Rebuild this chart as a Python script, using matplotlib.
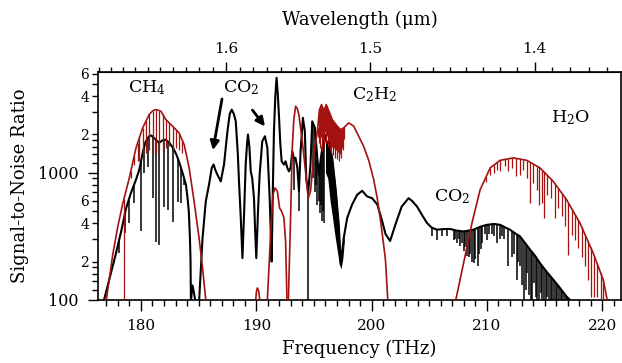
import numpy as np
import matplotlib.pyplot as plt
from matplotlib.ticker import FixedLocator, FixedFormatter, FuncFormatter

plt.rcParams['font.family'] = 'DejaVu Serif'
plt.rcParams['mathtext.fontset'] = 'dejavuserif'

RED = '#a3120f'

# --- measured spectrum (black): envelope, frequency in THz vs SNR ---
meas_f1 = [176.8, 177.3, 177.8, 178.3, 178.7, 179.1, 179.57, 179.85, 180.0, 180.2, 180.4,
           180.7, 180.9, 181.2, 181.56, 181.9, 182.16, 182.5, 182.77, 183.05, 183.3, 183.6,
           183.9, 184.05, 184.15, 184.25, 184.3, 184.33]
meas_snr1 = [100, 150, 226, 350, 520, 680, 881, 1050, 1220, 1500, 1750,
             1930, 1960, 1850, 1720, 1800, 1818, 1700, 1570, 1400, 1220, 1000,
             805, 620, 494, 300, 200, 100]

meas_f2 = [184.35, 184.45, 184.55, 184.7]
meas_snr2 = [100, 130, 120, 100]

meas_f3 = [185.05, 185.2, 185.34, 185.62, 185.9, 186.14, 186.3, 186.45, 186.63, 186.92,
           187.2, 187.5, 187.7, 187.87, 188.05, 188.22, 188.4, 188.5, 188.65, 188.8,
           188.95, 189.08, 189.2, 189.28, 189.4, 189.52, 189.65, 189.8, 189.9, 190.0,
           190.15, 190.29, 190.52, 190.75, 190.96, 191.06, 191.16, 191.25, 191.33, 191.43,
           191.53, 191.65, 191.76, 191.86, 191.96, 192.08, 192.2, 192.4, 192.54, 192.69,
           192.83, 192.98, 193.12, 193.25, 193.4, 193.56, 193.7, 193.84, 194.04, 194.21,
           194.33, 194.5, 194.7, 194.85, 195.08, 195.29, 195.42, 195.6, 195.77, 195.94,
           196.15, 196.29, 196.58, 196.87, 197.15, 197.33, 197.58, 197.88, 198.3, 198.75,
           199.18, 199.61, 200.04, 200.5, 200.9, 201.2, 201.6, 202.1, 202.6, 203.2,
           203.5, 203.93, 204.4, 204.8, 205.2, 205.66, 206.2, 206.8, 207.4, 207.97,
           208.4, 208.83, 209.4, 210.0, 210.6, 211.14, 211.6, 212.0, 212.4, 212.87,
           213.3, 213.74, 214.2, 214.6, 215.2, 215.75, 216.3, 216.9, 217.2]
meas_snr3 = [100, 180, 306, 594, 805, 1090, 1160, 1050, 964, 853,
             1156, 2115, 2900, 3130, 2900, 2535, 1400, 853, 450, 213,
             500, 1156, 1700, 1995, 1600, 1024, 900, 630, 350, 213,
             500, 964, 1766, 1933, 1564, 1000, 630, 350, 200, 700,
             2115, 4000, 5570, 4200, 2870, 1700, 1228, 1156, 1228, 1090,
             1024, 1100, 1472, 1300, 1306, 1090, 713, 1472, 2700, 2115,
             900, 700, 1156, 2535, 2250, 1306, 964, 1300, 1660, 1995,
             1660, 1766, 1306, 758, 389, 189, 306, 440, 560, 671,
             720, 650, 630, 560, 420, 330, 290, 400, 540, 630,
             600, 543, 460, 402, 370, 356, 360, 361, 350, 345,
             350, 356, 375, 389, 395, 389, 370, 356, 335, 315,
             280, 248, 220, 194, 165, 144, 125, 106, 100]

# individual absorption lines in the measured spectrum (position, bottom SNR)
meas_line_f = [177.26, 177.69, 178.12, 178.6, 178.99, 179.42, 180.0, 180.3, 180.6, 181.01,
               181.3, 181.58, 182.02, 182.31, 182.74, 183.17, 183.46, 183.75,
               193.27, 193.7, 194.52, 194.95, 195.1, 195.2, 195.3, 195.4, 195.5, 195.6,
               195.7, 195.8, 195.9,
               205.23, 205.66, 206.1, 206.53, 207.1,
               207.25, 207.4, 207.55, 207.7, 207.85, 208.0, 208.12, 208.25, 208.4, 208.55,
               208.7, 208.85, 209.0, 209.18, 209.3, 209.45, 209.6, 209.8,
               210.0, 210.2, 210.4, 210.6, 210.86, 211.1, 211.3, 211.5, 211.86, 212.15,
               212.35, 212.58, 212.7, 212.87, 213.08, 213.22, 213.36, 213.5, 213.65, 213.8,
               213.94, 214.08, 214.22, 214.37, 214.5, 214.66, 214.8, 214.95, 215.08, 215.23,
               215.37, 215.52, 215.66, 215.81, 215.95, 216.1, 216.25, 216.39, 216.53, 216.68,
               216.82, 216.95]
meas_line_snr = [135, 194, 234, 336, 400, 580, 345, 1000, 1100, 635,
                 286, 271, 540, 512, 410, 590, 580, 800,
                 735, 500, 100, 900, 700, 800, 560, 600, 480, 560,
                 420, 500, 400,
                 315, 297, 320, 315, 297,
                 300, 280, 300, 263, 280, 240, 260, 220, 219, 230,
                 200, 194, 210, 183, 230, 250, 280, 330,
                 297, 330, 330, 320, 280, 300, 320, 300, 183, 219,
                 230, 144, 200, 183, 130, 100, 120, 162, 110, 100,
                 100, 135, 105, 100, 100, 113, 100, 100, 100, 106,
                 100, 100, 100, 100, 100, 100, 100, 100, 100, 100,
                 100, 100]

# dense line region of the measured C2H2 band (upper / lower edge)
meas_band_f = [196.0, 196.2, 196.4, 196.6, 196.8, 197.0, 197.2, 197.35, 197.5, 197.65]
meas_band_hi = [1800, 1700, 1500, 1300, 900, 600, 330, 200, 260, 330]
meas_band_lo = [1000, 900, 600, 450, 330, 250, 190, 175, 210, 300]

# --- simulated spectrum (red) ---
sim_f1 = [177.0, 177.55, 178.0, 178.4, 178.99, 179.57, 180.15, 180.72, 181.0, 181.24,
          181.5, 181.73, 182.16, 182.74, 183.31, 183.75, 184.18, 184.61, 185.04, 185.34, 185.62]
sim_snr1 = [100, 226, 380, 560, 908, 1564, 2250, 2870, 3050, 3130,
            3100, 3040, 2613, 2320, 2050, 1660, 1090, 594, 306, 178, 100]
sim_f2 = [189.95, 190.02, 190.1, 190.2, 190.3]
sim_snr2 = [100, 118, 124, 118, 100]
sim_f3 = [190.96, 191.1, 191.25, 191.45, 191.62, 191.83, 192.02, 192.2, 192.4, 192.54, 192.66]
sim_snr3 = [100, 180, 345, 671, 758, 713, 527, 495, 440, 288, 100]
sim_f4 = [192.78, 192.9, 192.98, 193.12, 193.25, 193.41, 193.55, 193.69, 193.99, 194.27,
          194.5, 194.7, 194.99, 195.29, 195.48, 195.66, 195.86, 196.06, 196.29, 196.58,
          197.02, 197.3, 197.58, 198.02, 198.45, 198.88, 199.32, 199.75, 200.18, 200.5,
          200.76, 201.0, 201.2, 201.4]
sim_snr4 = [100, 250, 467, 1564, 2600, 3330, 3200, 2870, 1766, 1024,
            630, 713, 1387, 2115, 3130, 3430, 3040, 3430, 3040, 2613,
            2320, 2180, 2250, 2460, 2320, 1933, 1600, 1250, 881, 620,
            427, 290, 206, 100]
sim_f5 = [207.3, 207.97, 208.7, 209.41, 210.28, 211.14, 212.29, 213.45, 214.6, 215.75,
          216.9, 218.06, 219.21, 220.08, 220.42]
sim_snr5 = [100, 194, 402, 735, 1090, 1250, 1306, 1250, 1090, 853,
            613, 402, 233, 144, 100]

sim_line_f = [178.53, 179.13, 179.42, 179.71, 179.85, 180.15, 180.43, 180.72, 181.01, 181.3,
              181.58, 181.88, 182.16, 182.45, 182.74, 183.03, 183.31, 183.6,
              195.32, 195.40, 195.48, 195.56, 195.64, 195.72, 195.80, 195.88, 195.96, 196.04,
              196.12, 196.20, 196.28, 196.36, 196.44, 196.52, 196.60, 196.68, 196.76, 196.84,
              196.92, 197.00, 197.08, 197.16, 197.24, 197.32, 197.40, 197.48, 197.56, 197.64,
              209.9, 210.3, 210.6, 210.9, 211.14, 211.57, 211.86, 212.15, 212.53, 212.87,
              213.16, 213.5, 213.74, 214.02, 214.32, 214.54, 214.75, 214.95, 215.23, 215.52,
              215.9, 216.18, 216.48, 216.76, 217.05, 217.34, 217.63, 217.92, 218.21, 218.5,
              218.78, 218.99, 219.27, 219.56, 219.85, 220.08]
sim_line_snr = [100, 900, 1156, 1230, 1228, 1306, 1429, 1517, 1343, 1429,
                1517, 1472, 1564, 1610, 1517, 1564, 1517, 1429,
                1900, 1700, 2100, 1550, 1900, 1470, 1800, 1650, 2100, 1700,
                1950, 1600, 1800, 1520, 1700, 1420, 1600, 1370, 1550, 1310,
                1500, 1280, 1450, 1230, 1400, 1300, 1550, 1500, 1800, 1850,
                850, 950, 1000, 1050, 1024, 1122, 1024, 1090, 935, 964,
                1056, 908, 577, 830, 735, 560, 577, 440, 671, 630,
                440, 527, 453, 378, 226, 325, 297, 255, 219, 183,
                144, 106, 106, 106, 100, 100]

major_vals = [100, 1000]
major_text = ['100', '1000']
minor_vals = [120, 140, 160, 180, 200, 300, 400, 500, 600, 700, 800, 900,
              1200, 1400, 1600, 1800, 2000, 3000, 4000, 5000, 6000]
minor_labeled = [2, 4, 6]


def envelope_at(x, f, s):
    return 10 ** np.interp(x, f, np.log10(s))


def minor_label(v, pos):
    m = v / 10 ** np.floor(np.log10(v))
    lead = int(round(m))
    return str(lead) if (lead in minor_labeled and abs(m - lead) < 1e-6) else ''


fig = plt.figure(figsize=(6.22, 3.63), dpi=100)
ax = fig.add_axes([0.158, 0.174, 0.840, 0.628])

# measured (black)
meas_all_f = meas_f1 + meas_f3
meas_all_s = meas_snr1 + meas_snr3
for f, s in [(meas_f1, meas_snr1), (meas_f2, meas_snr2), (meas_f3, meas_snr3)]:
    ax.plot(f, s, color='black', lw=1.5, zorder=2)
tops = envelope_at(meas_line_f, meas_all_f, meas_all_s)
ax.vlines(meas_line_f, meas_line_snr, tops, color='black', lw=1.1, zorder=2)
ax.fill_between(meas_band_f, meas_band_lo, meas_band_hi, color='black', lw=0, zorder=2)

# simulated (red)
sim_all_f = sim_f1 + sim_f4 + sim_f5
sim_all_s = sim_snr1 + sim_snr4 + sim_snr5
for f, s in [(sim_f1, sim_snr1), (sim_f2, sim_snr2), (sim_f3, sim_snr3),
             (sim_f4, sim_snr4), (sim_f5, sim_snr5)]:
    ax.plot(f, s, color=RED, lw=1.2, zorder=3)
tops = envelope_at(sim_line_f, sim_all_f, sim_all_s)
ax.vlines(sim_line_f, sim_line_snr, tops, color=RED, lw=0.9, zorder=3)

ax.set_yscale('log')
ax.set_xlim(176.3, 221.6)
ax.set_ylim(100, 6200)
ax.yaxis.set_major_locator(FixedLocator(major_vals))
ax.yaxis.set_major_formatter(FixedFormatter(major_text))
ax.yaxis.set_minor_locator(FixedLocator(minor_vals))
ax.yaxis.set_minor_formatter(FuncFormatter(minor_label))
ax.set_xticks(np.arange(180, 221, 10))
ax.xaxis.set_minor_locator(FixedLocator(np.arange(177, 222, 1)))
ax.tick_params(axis='x', which='major', direction='out', length=8, width=1, pad=6, labelsize=11)
ax.tick_params(axis='x', which='minor', direction='out', length=4.3, width=1)
ax.tick_params(axis='y', which='major', direction='out', length=7.5, width=1, pad=7, labelsize=11.5)
ax.tick_params(axis='y', which='minor', direction='out', length=4, width=1, pad=2.5, labelsize=10)
for sp in ax.spines.values():
    sp.set_linewidth(1.2)

sec = ax.secondary_xaxis('top', functions=(lambda x: 299.792458 / x,
                                           lambda x: 299.792458 / x))
sec.set_xticks([1.4, 1.5, 1.6])
sec.xaxis.set_minor_locator(FixedLocator(np.arange(1.36, 1.705, 0.01)))
sec.tick_params(which='major', direction='out', length=7.5, width=1, pad=4, labelsize=11)
sec.tick_params(which='minor', direction='out', length=3.5, width=1)
sec.set_xlabel('Wavelength (μm)', fontsize=13, labelpad=12)

ax.set_xlabel('Frequency (THz)', fontsize=13, labelpad=5)
ax.set_ylabel('Signal-to-Noise Ratio', fontsize=13, labelpad=6)

ax.text(180.5, 4670, 'CH$_4$', ha='center', va='center', fontsize=12.5)
ax.text(188.65, 4670, 'CO$_2$', ha='center', va='center', fontsize=12.5)
ax.text(200.24, 4110, 'C$_2$H$_2$', ha='center', va='center', fontsize=12.5)
ax.text(217.2, 2710, 'H$_2$O', ha='center', va='center', fontsize=12.5)
ax.text(207.0, 647, 'CO$_2$', ha='center', va='center', fontsize=12.5)

ax.annotate('', xy=(186.2, 1430), xytext=(187.07, 3990),
            arrowprops=dict(arrowstyle='-|>', color='black', lw=2, mutation_scale=13))
ax.annotate('', xy=(190.9, 2220), xytext=(189.52, 3230),
            arrowprops=dict(arrowstyle='-|>', color='black', lw=2, mutation_scale=13))

fig.savefig('out.png', dpi=100)
